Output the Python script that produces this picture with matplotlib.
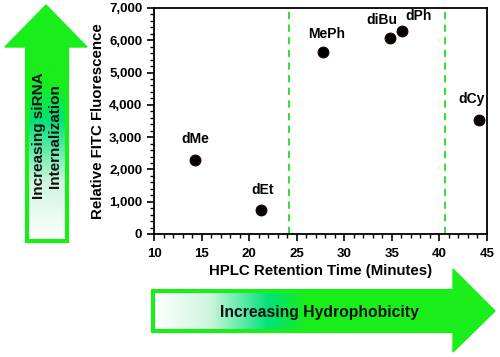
import numpy as np
import matplotlib
matplotlib.use('agg')
from matplotlib import pyplot as plt
from matplotlib.path import Path
from matplotlib.patches import PathPatch
from matplotlib.colors import LinearSegmentedColormap
from matplotlib.ticker import MultipleLocator, StrMethodFormatter

plt.rcParams['font.family'] = ['Liberation Sans', 'DejaVu Sans']
plt.rcParams['font.weight'] = 'bold'

# data
names = ['dMe', 'dEt', 'MePh', 'diBu', 'dPh', 'dCy']
retention = [14.3, 21.2, 27.8, 34.8, 36.1, 44.2]
fluorescence = [2300, 730, 5640, 6070, 6280, 3540]
cutoffs = [24.2, 40.6]

# label offsets in pixels (dx, dy)
offsets = {'dMe': (0, 14), 'dEt': (2, 13), 'MePh': (3, 11), 'diBu': (-8, 11),
           'dPh': (16, 8), 'dCy': (-8, 14)}

W, H = 500, 357
fig = plt.figure(figsize=(W / 100, H / 100), dpi=100)

# background axes in pixel coordinates for the arrows
bg = fig.add_axes([0, 0, 1, 1])
bg.set_xlim(0, W)
bg.set_ylim(H, 0)
bg.axis('off')

green = '#1aee1a'
cmap = LinearSegmentedColormap.from_list(
    'g', [(0, '#ffffff'), (0.3, '#d0f5e0'), (0.62, '#00e27a'), (0.82, green), (1, green)])


def grad_rect(x0, y0, x1, y1, direction):
    n = 256
    if direction == 'up':
        img = np.tile(np.linspace(1, 0, n).reshape(-1, 1), (1, 4))
        ext = (x0, x1, y1, y0)
    else:
        img = np.tile(np.linspace(0, 1, n).reshape(1, -1), (4, 1))
        ext = (x0, x1, y1, y0)
    bg.imshow(img, cmap=cmap, extent=ext, aspect='auto', zorder=1, vmin=0, vmax=1,
              interpolation='bilinear')


# vertical arrow: shaft with gradient + solid head
grad_rect(27, 47, 67, 241, 'up')
bg.add_patch(plt.Rectangle((27, 47), 40, 194, fill=False, edgecolor=green, lw=3, zorder=2))
bg.add_patch(plt.Polygon([(5, 47), (87, 47), (46, 5)], closed=True, facecolor=green,
                         edgecolor=green, lw=1, zorder=2))

# horizontal arrow
grad_rect(153, 291, 340, 331, 'right')
bg.add_patch(plt.Rectangle((340, 291), 113, 40, facecolor=green, edgecolor='none', zorder=1.5))
bg.add_patch(plt.Rectangle((153, 291), 300, 40, fill=False, edgecolor=green, lw=3, zorder=2))
bg.add_patch(plt.Polygon([(453, 269), (495, 311), (453, 352)], closed=True, facecolor=green,
                         edgecolor=green, lw=1, zorder=2))

bg.text(47, 136, 'Increasing siRNA\nInternalization', rotation=90, ha='center', va='center',
        fontsize=11, fontweight='bold', color='#111111', zorder=3, linespacing=1.2)
bg.text(319, 312, 'Increasing Hydrophobicity', ha='center', va='center',
        fontsize=11.3, fontweight='bold', color='#111111', zorder=3)

# main plot
ax = fig.add_axes([154 / W, 1 - 234 / H, 333 / W, 226 / H])
ax.patch.set_alpha(0)
for x in cutoffs:
    ax.axvline(x, color='#22dd22', ls=(0, (4, 3)), lw=1.3, zorder=1)
ax.scatter(retention, fluorescence, s=60, c='black', edgecolors='#220000', linewidths=0.8, zorder=3)
for n, x, y in zip(names, retention, fluorescence):
    dx, dy = offsets[n]
    ax.annotate(n, (x, y), xytext=(dx, dy), textcoords='offset pixels', ha='center',
                va='bottom', fontsize=10, fontweight='bold')

ax.set_xlim(10, 45)
ax.set_ylim(0, 7000)
ax.xaxis.set_major_locator(MultipleLocator(5))
ax.xaxis.set_minor_locator(MultipleLocator(1))
ax.yaxis.set_major_locator(MultipleLocator(1000))
ax.yaxis.set_minor_locator(MultipleLocator(200))
ax.yaxis.set_major_formatter(StrMethodFormatter('{x:,.0f}'))
ax.tick_params(which='major', length=5, width=1.2, labelsize=9.5)
ax.tick_params(axis='x', which='major', pad=5)
ax.tick_params(which='minor', length=3, width=1)
for lab in ax.get_xticklabels() + ax.get_yticklabels():
    lab.set_fontweight('bold')
for s in ax.spines.values():
    s.set_linewidth(1.3)

ax.set_xlabel('HPLC Retention Time (Minutes)', fontsize=10.8, fontweight='bold', labelpad=3)
ax.set_ylabel('Relative FITC Fluorescence', fontsize=10.8, fontweight='bold', labelpad=3)

fig.savefig('out.png', dpi=100)
